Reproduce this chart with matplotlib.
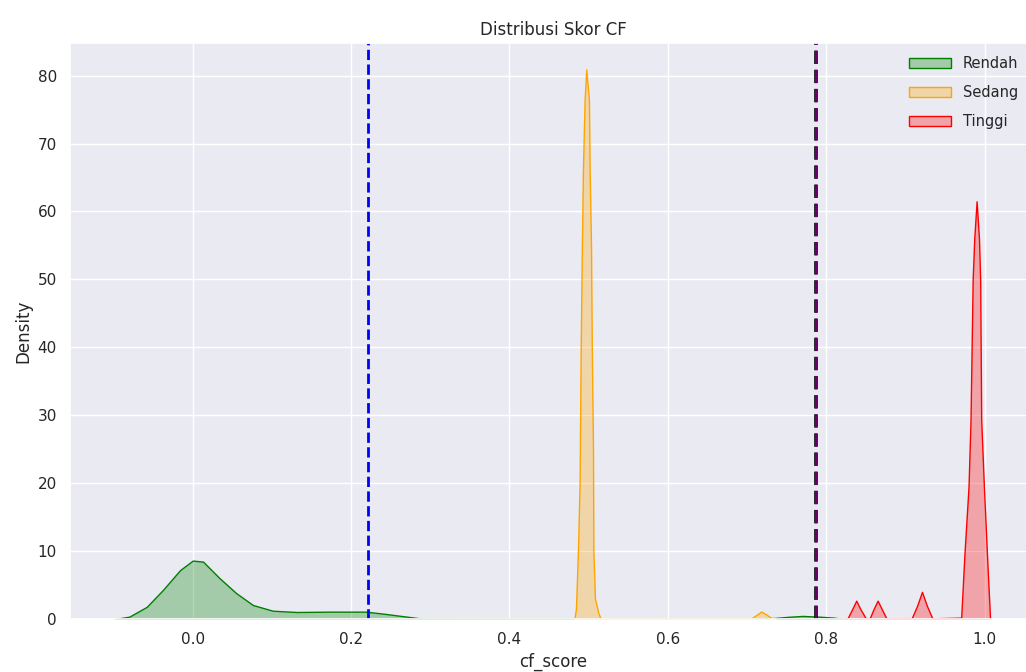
import matplotlib
matplotlib.use("Agg")
import matplotlib.pyplot as plt
import seaborn as sns
from matplotlib.colors import to_rgba

# density curves (cf_score, density)
rendah_x = [-0.098, -0.080, -0.058, -0.0375, -0.016, 0.0, 0.013, 0.034, 0.055,
            0.076, 0.101, 0.131, 0.173, 0.219, 0.244, 0.27, 0.29, 0.40, 0.55,
            0.70, 0.735, 0.75, 0.77, 0.79, 0.81, 0.822]
rendah_y = [0.0, 0.35, 1.8, 4.3, 7.2, 8.6, 8.45, 6.0, 3.8,
            2.06, 1.22, 1.03, 1.08, 1.08, 0.74, 0.35, 0.05, 0.02, 0.02,
            0.03, 0.15, 0.3, 0.45, 0.35, 0.2, 0.0]

sedang_x = [0.482, 0.484, 0.4865, 0.4886, 0.490, 0.4915, 0.4928, 0.4949, 0.497,
            0.5004, 0.5013, 0.503, 0.504, 0.5055, 0.506, 0.508, 0.512, 0.515,
            0.60, 0.705, 0.712, 0.718, 0.724, 0.73, 0.736]
sedang_y = [0.0, 1.5, 10.0, 20.0, 40.0, 55.0, 66.0, 76.4, 80.9,
            76.4, 66.0, 55.0, 40.0, 25.0, 10.0, 3.0, 1.0, 0.05,
            0.02, 0.05, 0.6, 1.1, 0.7, 0.2, 0.0]

tinggi_x = [0.821, 0.827, 0.833, 0.838, 0.843, 0.850, 0.855, 0.860, 0.865,
            0.870, 0.876, 0.908, 0.915, 0.921, 0.927, 0.934, 0.9705, 0.9747,
            0.9798, 0.9823, 0.985, 0.987, 0.990, 0.993, 0.9945, 0.9958,
            0.9992, 1.003, 1.007]
tinggi_y = [0.0, 0.1, 1.5, 2.7, 1.5, 0.1, 0.1, 1.5, 2.7,
            1.5, 0.1, 0.1, 2.0, 4.0, 2.0, 0.1, 0.2, 9.7,
            19.5, 29.3, 49.9, 56.0, 61.5, 56.0, 49.9, 29.3,
            19.5, 9.7, 0.0]

labels = ["Rendah", "Sedang", "Tinggi"]
colors = ["green", "orange", "red"]
threshold_low = 0.221
threshold_high = 0.787

sns.set_theme(style="darkgrid")
fig = plt.figure(figsize=(10.26, 6.72), dpi=100)
ax = fig.add_axes([70 / 1026, 53 / 672, 966 / 1026, 576 / 672])

curves = [(rendah_x, rendah_y), (sedang_x, sedang_y), (tinggi_x, tinggi_y)]
for (xs, ys), lab, col in zip(curves, labels, colors):
    ax.fill_between(xs, ys, facecolor=to_rgba(col, 0.3), edgecolor=col,
                    linewidth=1, label=lab)

ax.axvline(threshold_low, color="blue", linestyle="--", linewidth=2)
ax.axvline(threshold_high, color="black", linestyle="--", linewidth=2.6)
ax.axvline(threshold_high, color="purple", linewidth=1.2,
           dashes=(3.7 * 2.6 / 1.2, 1.6 * 2.6 / 1.2))

ax.set_xlim(-0.155, 1.065)
ax.set_ylim(0, 84.8)
ax.set_xticks([0.0, 0.2, 0.4, 0.6, 0.8, 1.0])
ax.set_yticks(range(0, 90, 10))
ax.set_title("Distribusi Skor CF")
ax.set_xlabel("cf_score")
ax.set_ylabel("Density")
ax.legend(loc="upper right", frameon=False, fontsize=10.5,
          handlelength=2.9, labelspacing=0.95,
          bbox_to_anchor=(0.995, 1.0))

fig.savefig("out.png", dpi=100)
